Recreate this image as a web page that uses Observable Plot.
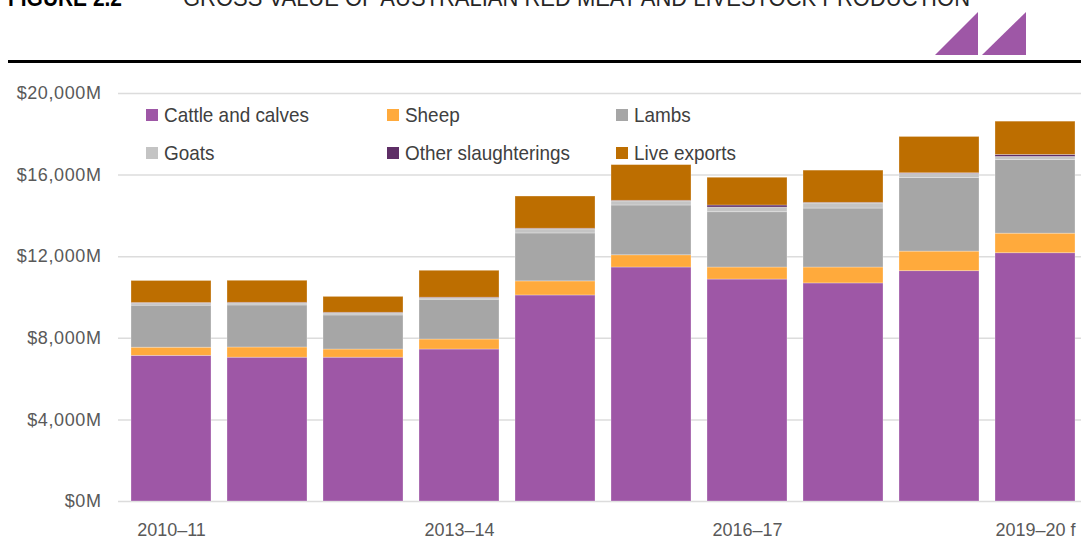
<!DOCTYPE html>
<html>
<head>
<meta charset="utf-8">
<script src="https://cdn.jsdelivr.net/npm/d3@7"></script>
<script src="https://cdn.jsdelivr.net/npm/@observablehq/plot@0.6"></script>
<style>
  html, body { margin: 0; padding: 0; background: #fff; }
  body { width: 1081px; height: 540px; position: relative; overflow: hidden; font-family: "Liberation Sans", Arial, sans-serif; }
  #header { position: absolute; left: 0; top: 0; }
  #chart { position: absolute; left: 0; top: 70px; }
  #chart svg text { font-family: "Liberation Sans", Arial, sans-serif; font-size: 18px; fill: #595959; }
  #chart svg g.yax text { letter-spacing: 0.6px; }
  #legend { position: absolute; left: 146px; top: 96px; display: grid; grid-template-columns: 241px 229px 229px; grid-auto-rows: 38px; font-size: 21px; color: #404040; }
  #legend .item { display: flex; align-items: center; white-space: nowrap; }
  #legend .sw { width: 12px; height: 12px; margin-right: 6px; flex: none; }
  #legend .lb { display: inline-block; transform: scaleX(0.9); transform-origin: left center; }
</style>
</head>
<body>
<svg id="header" width="1081" height="70">
  <text x="8" y="6" font-family="Liberation Sans, Arial, sans-serif" font-weight="bold" font-size="24" fill="#000" textLength="114" lengthAdjust="spacingAndGlyphs">FIGURE 2.2</text>
  <text x="183" y="6" font-family="Liberation Sans, Arial, sans-serif" font-size="24" fill="#262626" textLength="787" lengthAdjust="spacingAndGlyphs">GROSS VALUE OF AUSTRALIAN RED MEAT AND LIVESTOCK PRODUCTION</text>
  <polygon points="935,55 978,12 978,55" fill="#9e57a6"/>
  <polygon points="982,55 1026,12 1026,55" fill="#9e57a6"/>
  <rect x="8" y="60" width="1073" height="3" fill="#000"/>
</svg>
<div id="chart"></div>
<div id="legend"></div>
<script>
// ---- data ----
const years = ["2010–11","2011–12","2012–13","2013–14","2014–15","2015–16","2016–17","2017–18","2018–19","2019–20 f"];
const labelYears = ["2010–11","2013–14","2016–17","2019–20 f"];
const series = ["Cattle and calves","Sheep","Lambs","Goats","Other slaughterings","Live exports"];
const colors = ["#9e57a6","#ffaa3c","#a6a6a6","#c4c4c4","#5e2e66","#bd6e00"];
const cattle = [7140, 7050, 7050, 7450, 10100, 11470, 10880, 10690, 11290, 12170];
const sheep  = [400, 500, 400, 490, 690, 600, 590, 780, 960, 960];
const lambs  = [2060, 2060, 1670, 1950, 2350, 2440, 2710, 2890, 3610, 3610];
const goats  = [100, 100, 100, 70, 200, 200, 230, 250, 200, 150];
const other  = [30, 30, 30, 30, 30, 30, 100, 30, 30, 100];
const live   = [1080, 1080, 780, 1320, 1580, 1750, 1360, 1580, 1780, 1630];
const yTicks = [0, 4000, 8000, 12000, 16000, 20000];
const legendOrder = ["Cattle and calves","Sheep","Lambs","Goats","Other slaughterings","Live exports"];

const valuesBySeries = [cattle, sheep, lambs, goats, other, live];
const rows = [];
series.forEach((s, si) => years.forEach((y, yi) => rows.push({year: y, series: s, value: valuesBySeries[si][yi]})));

const fmt = d => "$" + d3.format(",")(d) + "M";

const chart = Plot.plot({
  width: 1081,
  height: 470,
  marginTop: 23,
  marginBottom: 39,
  marginLeft: 118,
  marginRight: 0,
  x: {type: "band", domain: years, range: [115, 1091], padding: 1/6, round: false, axis: null, label: null},
  y: {domain: [0, 20000], axis: null, label: null},
  color: {domain: series, range: colors},
  marks: [
    Plot.ruleY(yTicks, {stroke: "#dcdcdc", strokeWidth: 1.5}),
    Plot.barY(rows, {x: "year", y: "value", fill: "series", order: series, stroke: "#ffffff", strokeOpacity: 0.35, strokeWidth: 0.8}),
    Plot.axisY({ticks: yTicks, tickFormat: fmt, tickSize: 0, tickPadding: 17, label: null, className: "yax"}),
    Plot.axisX({ticks: labelYears, tickSize: 0, tickPadding: 22, tickFormat: d => d, label: null})
  ]
});
document.getElementById("chart").appendChild(chart);

const legend = document.getElementById("legend");
legendOrder.forEach(s => {
  const it = document.createElement("div");
  it.className = "item";
  const sw = document.createElement("span");
  sw.className = "sw";
  sw.style.background = colors[series.indexOf(s)];
  const t = document.createElement("span");
  t.className = "lb";
  t.textContent = s;
  it.appendChild(sw); it.appendChild(t);
  legend.appendChild(it);
});
</script>
</body>
</html>
